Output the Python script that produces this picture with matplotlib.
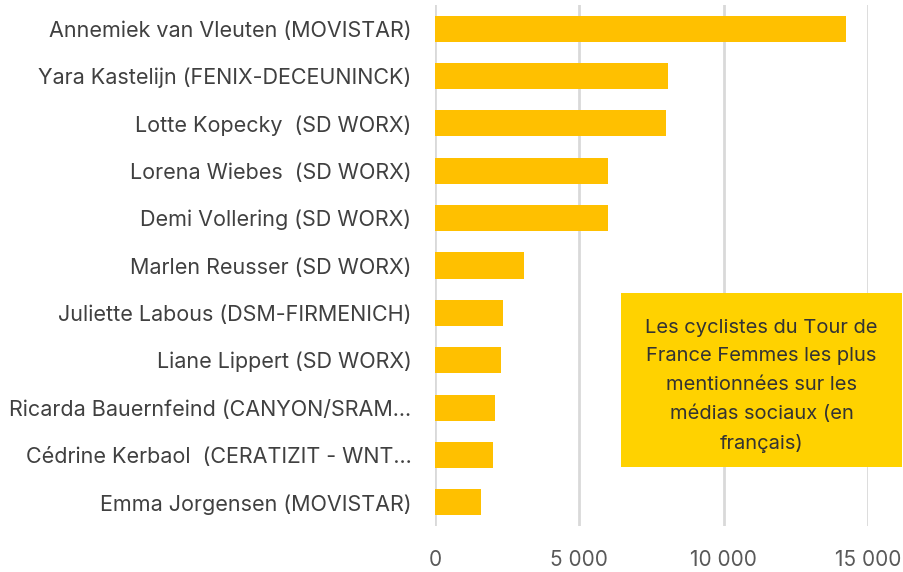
import matplotlib.pyplot as plt

names = [
    "Annemiek van Vleuten (MOVISTAR)",
    "Yara Kastelijn (FENIX-DECEUNINCK)",
    "Lotte Kopecky  (SD WORX)",
    "Lorena Wiebes  (SD WORX)",
    "Demi Vollering (SD WORX)",
    "Marlen Reusser (SD WORX)",
    "Juliette Labous (DSM-FIRMENICH)",
    "Liane Lippert (SD WORX)",
    "Ricarda Bauernfeind (CANYON/SRAM…",
    "Cédrine Kerbaol  (CERATIZIT - WNT…",
    "Emma Jorgensen (MOVISTAR)",
]
mentions = [14250, 8080, 8000, 6000, 6000, 3090, 2355, 2295, 2090, 2020, 1595]
xticks = [0, 5000, 10000, 15000]
xtick_labels = ["0", "5 000", "10 000", "15 000"]
note = "Les cyclistes du Tour de\nFrance Femmes les plus\nmentionnées sur les\nmédias sociaux (en\nfrançais)"

plt.rcParams['font.family'] = ['Inter', 'DejaVu Sans']

fig = plt.figure(figsize=(9.04, 5.72), dpi=100, facecolor='w')
# axes en pixels: gauche 435, droite 868, haut 5, bas 526
ax = fig.add_axes([435 / 904, (572 - 526) / 572, (868 - 435) / 904, (526 - 5) / 572])

y = list(range(len(names)))
ax.barh(y, mentions, height=0.55, color='#FFC000', zorder=2)
ax.set_ylim(len(names) - 0.5, -0.5)
ax.set_xlim(0, 15000)
ax.set_yticks(y)
ax.set_yticklabels(names, fontsize=15.5, color='#404040')
ax.set_xticks(xticks)
ax.set_xticklabels(xtick_labels, fontsize=15, color='#595959')
ax.tick_params(axis='y', length=0, pad=17)
ax.tick_params(axis='x', length=0, pad=17)

ax.grid(axis='x', color='#d9d9d9', linewidth=2, zorder=0)
for s in ax.spines.values():
    s.set_visible(False)

# encadré jaune
box = plt.Rectangle((621 / 904, (572 - 467) / 572), (902 - 621) / 904, (467 - 293) / 572,
                    transform=fig.transFigure, facecolor='#FFD200', edgecolor='none',
                    zorder=4, clip_on=False)
ax.add_patch(box)
ax.text(0.5 * (621 + 902) / 904, (572 - 386) / 572, note, transform=fig.transFigure,
        ha='center', va='center', fontsize=14.5, color='#333333', linespacing=1.75,
        zorder=5, clip_on=False)

plt.savefig('out.png', dpi=100, facecolor='w')
